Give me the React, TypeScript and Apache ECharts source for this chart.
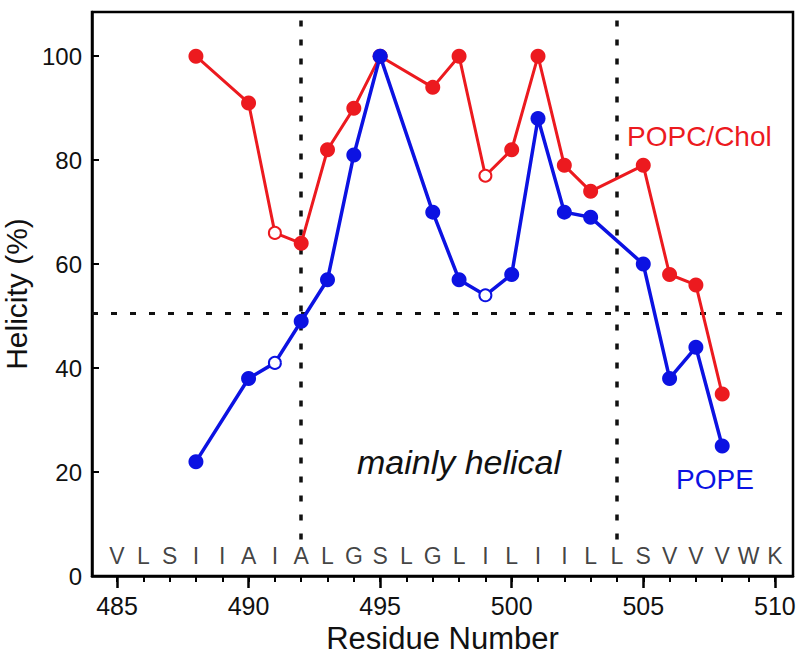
import React, { useEffect, useRef } from "react";
import * as echarts from "echarts";

const residues = [488, 490, 491, 492, 493, 494, 495, 497, 498, 499, 500, 501, 502, 503, 505, 506, 507, 508];
const popcChol = [100, 91, 66, 64, 82, 90, 100, 94, 100, 77, 82, 100, 79, 74, 79, 58, 56, 35];
const pope = [22, 38, 41, 49, 57, 81, 100, 70, 57, 54, 58, 88, 70, 69, 60, 38, 44, 25];
const openResidues = [491, 499];
const sequenceStart = 485;
const sequence = ["V","L","S","I","I","A","I","A","L","G","S","L","G","L","I","L","I","I","L","L","S","V","V","V","W","K"];
const sequenceY = 3.8;
const xMajorTicks = [485, 490, 495, 500, 505, 510];
const yTicks = [0, 20, 40, 60, 80, 100];
const helixBounds = [492, 504];
const helixLineBottom = 7;
const threshold = 50.5;

const RED = "#ec1a1f";
const BLUE = "#0c12e2";
const FONT = "Liberation Sans, Arial, sans-serif";

const X_MIN = 484.05;
const X_MAX = 510.69;
const Y_MIN = 0;
const Y_MAX = 108.5;

function seriesData(vals: number[], color: string) {
  return residues.map((r, i) => {
    const open = openResidues.includes(r);
    return open
      ? {
          value: [r, vals[i]],
          symbolSize: 12,
          itemStyle: { color: "#ffffff", borderColor: color, borderWidth: 2 },
        }
      : { value: [r, vals[i]] };
  });
}

export default function App() {
  const ref = useRef<HTMLDivElement>(null);
  useEffect(() => {
    if (!ref.current) return;
    const chart = echarts.init(ref.current, null, { renderer: "svg" });
    const allInts: number[] = [];
    for (let v = xMajorTicks[0]; v <= xMajorTicks[xMajorTicks.length - 1]; v++) allInts.push(v);
    const baseX = {
      type: "value",
      min: X_MIN,
      max: X_MAX,
      position: "bottom",
      splitLine: { show: false },
    };
    const vLine = (x: number) => [
      { coord: [x, helixLineBottom], lineStyle: { color: "#111", width: 3.5, type: [6, 13] } },
      { coord: [x, Y_MAX] },
    ];
    chart.setOption({
      animation: false,
      backgroundColor: "#ffffff",
      grid: {
        left: 92,
        right: 7,
        top: 12,
        bottom: 79,
        show: true,
        containLabel: false,
        outerBoundsMode: "none",
        borderColor: "#000",
        borderWidth: 2.5,
        backgroundColor: "transparent",
      },
      xAxis: [
        {
          ...baseX,
          name: "Residue Number",
          nameLocation: "middle",
          nameGap: 36,
          nameTextStyle: { fontFamily: FONT, fontSize: 31, color: "#111" },
          axisLine: { show: true, lineStyle: { color: "#000", width: 2.5 } },
          axisTick: { show: true, customValues: xMajorTicks, length: 12, lineStyle: { color: "#000", width: 2.5 } },
          axisLabel: {
            customValues: xMajorTicks,
            margin: 17,
            fontFamily: FONT,
            fontSize: 25,
            color: "#111",
          },
        },
        {
          ...baseX,
          axisLine: { show: false },
          axisTick: { show: true, customValues: allInts, length: 6, lineStyle: { color: "#000", width: 2 } },
          axisLabel: { show: false },
        },
      ],
      yAxis: {
        type: "value",
        min: Y_MIN,
        max: Y_MAX,
        name: "Helicity (%)",
        nameLocation: "middle",
        nameGap: 46,
        nameTextStyle: { fontFamily: FONT, fontSize: 30, color: "#111" },
        axisLine: { show: true, lineStyle: { color: "#000", width: 2.5 } },
        axisTick: { show: true, inside: true, customValues: yTicks, length: 7, lineStyle: { color: "#000", width: 2 } },
        axisLabel: { customValues: yTicks, margin: 10, fontFamily: FONT, fontSize: 24, color: "#111" },
        splitLine: { show: false },
      },
      series: [
        {
          type: "line",
          name: "POPC/Chol",
          data: seriesData(popcChol, RED),
          symbol: "circle",
          symbolSize: 15,
          color: RED,
          lineStyle: { color: RED, width: 3 },
          itemStyle: { color: RED },
          z: 3,
          markLine: {
            silent: true,
            symbol: "none",
            label: { show: false },
            data: [
              vLine(helixBounds[0]),
              vLine(helixBounds[1]),
              { yAxis: threshold, lineStyle: { color: "#111", width: 3, type: [6, 13] } },
            ],
            z: 1,
          },
        },
        {
          type: "line",
          name: "POPE",
          data: seriesData(pope, BLUE),
          symbol: "circle",
          symbolSize: 15,
          color: BLUE,
          lineStyle: { color: BLUE, width: 3.5 },
          itemStyle: { color: BLUE },
          z: 4,
        },
        {
          type: "scatter",
          name: "sequence",
          data: sequence.map((s, i) => [sequenceStart + i, sequenceY, s]),
          symbol: "circle",
          symbolSize: 1,
          itemStyle: { color: "transparent" },
          label: {
            show: true,
            position: "inside",
            formatter: (p: any) => p.value[2],
            fontFamily: FONT,
            fontSize: 23,
            color: "#111",
          },
          z: 2,
        },
      ],
      graphic: [
        {
          type: "text",
          left: 627,
          top: 122,
          style: { text: "POPC/Chol", fill: RED, font: `28px ${FONT}` },
        },
        {
          type: "text",
          left: 676,
          top: 465,
          style: { text: "POPE", fill: BLUE, font: `28px ${FONT}` },
        },
        {
          type: "text",
          left: 357,
          top: 445,
          style: { text: "mainly helical", fill: "#111", font: `italic 34px ${FONT}` },
        },
      ],
    });
    return () => chart.dispose();
  }, []);
  return <div ref={ref} style={{ width: 800, height: 655, position: "absolute", left: 0, top: 0 }} />;
}
